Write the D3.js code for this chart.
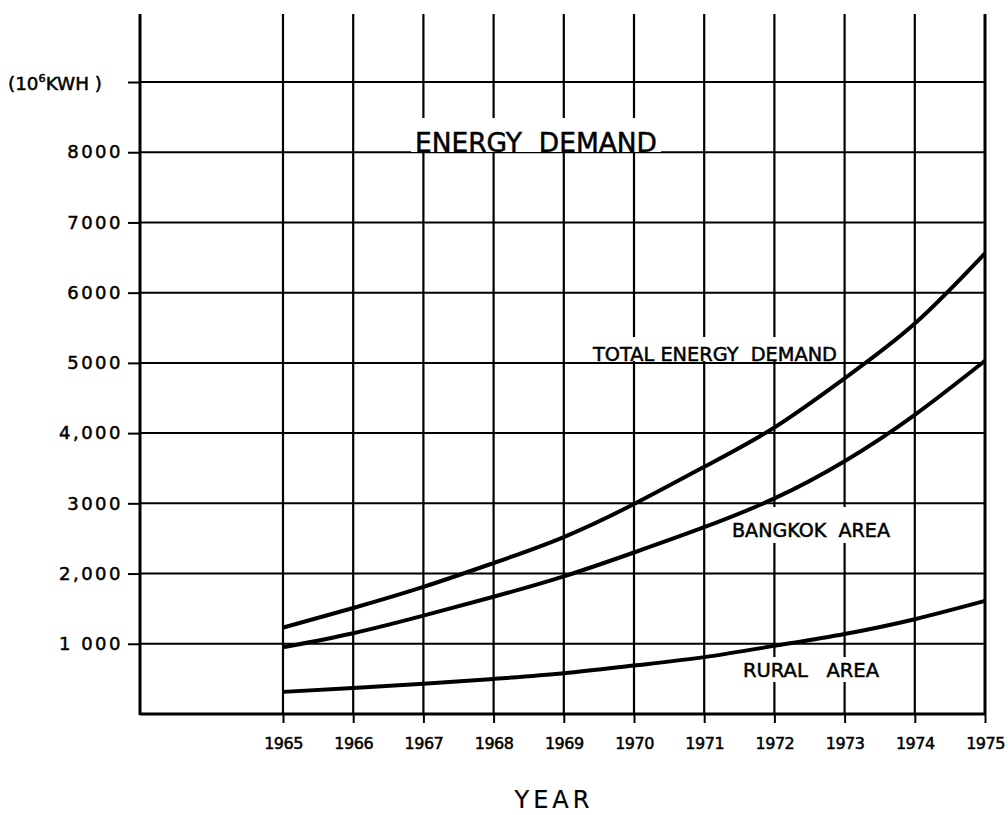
<!DOCTYPE html>
<html lang="en">
<head>
    <meta charset="UTF-8">
    <title>Energy Demand</title>
    <script src="https://d3js.org/d3.v7.min.js"></script>
    <style>
        body { margin: 0; background: #fff; }
        svg { display: block; }
        text { font-family: "DejaVu Sans", sans-serif; fill: #000; stroke: #000; stroke-width: 0.5px; }
        .grid line { stroke: #000; stroke-width: 2; }
        .y-axis text { font-size: 18px; letter-spacing: 2.5px; }
        .x-axis text { font-size: 16px; letter-spacing: -0.5px; }
        .axis line { stroke: #000; stroke-width: 2; }
        .curve { fill: none; stroke: #000; stroke-width: 4; }
    </style>
</head>
<body>
    <svg width="1008" height="815"></svg>

    <script>
        // values
        const years = [1965, 1966, 1967, 1968, 1969, 1970, 1971, 1972, 1973, 1974, 1975];
        const totalDemand = [1230, 1510, 1810, 2150, 2520, 2990, 3520, 4080, 4780, 5560, 6560];
        const bangkokArea = [950, 1150, 1400, 1670, 1960, 2300, 2660, 3070, 3600, 4260, 5030];
        const ruralArea = [315, 370, 430, 500, 580, 690, 810, 970, 1140, 1350, 1610];

        const yTickValues = [1000, 2000, 3000, 4000, 5000, 6000, 7000, 8000, 9000];
        const yTickLabels = ["1 000", "2,000", "3000", "4,000", "5000", "6000", "7000", "8000", ""];

        const svg = d3.select("svg");

        const axisX = 140;       // left frame line
        const gridTop = 14;

        const x = d3.scaleLinear().domain([1965, 1975]).range([283, 985]);
        const y = d3.scaleLinear().domain([0, 9000]).range([714, 82]);

        // grid
        const grid = svg.append("g").attr("class", "grid");
        grid.selectAll(".h")
            .data(yTickValues)
            .enter().append("line")
            .attr("x1", axisX).attr("x2", x(1975))
            .attr("y1", d => y(d)).attr("y2", d => y(d));
        grid.selectAll(".v")
            .data(years)
            .enter().append("line")
            .attr("x1", d => x(d)).attr("x2", d => x(d))
            .attr("y1", y(0)).attr("y2", gridTop)
            .style("stroke-width", d => d === 1975 ? 3 : 2.2);

        // labels on the chart, with a white patch that breaks the grid
        const labels = [
            { text: "ENERGY  DEMAND", x: 415, y: 152, size: 26, len: 242, cap: 20, padTop: 14, padBot: 0 },
            { text: "TOTAL ENERGY  DEMAND", x: 593, y: 361, size: 19, len: 244, cap: 14, padTop: 10, padBot: 0 },
            { text: "BANGKOK  AREA", x: 732, y: 537, size: 19, len: 158, cap: 14, padTop: 16, padBot: 6 },
            { text: "RURAL   AREA", x: 743, y: 677, size: 19, len: 136, cap: 14, padTop: 6, padBot: 5 }
        ];
        const lab = svg.append("g");
        labels.forEach(function(l) {
            lab.append("rect")
                .attr("x", l.x - 4).attr("width", l.len + 8)
                .attr("y", l.y - l.cap - l.padTop)
                .attr("height", l.cap + l.padTop + l.padBot)
                .attr("fill", "#fff");
            lab.append("text")
                .attr("x", l.x).attr("y", l.y)
                .attr("font-size", l.size)
                .attr("textLength", l.len)
                .attr("lengthAdjust", "spacingAndGlyphs")
                .style("white-space", "pre")
                .text(l.text);
        });

        // curves
        const line = d3.line()
            .x((d, i) => x(years[i]))
            .y(d => y(d))
            .curve(d3.curveNatural);

        [totalDemand, bangkokArea, ruralArea].forEach(function(s) {
            svg.append("path")
                .attr("class", "curve")
                .attr("d", line(s));
        });

        // frame lines
        svg.append("line")
            .attr("x1", axisX).attr("x2", axisX)
            .attr("y1", gridTop).attr("y2", y(0) + 1)
            .attr("stroke", "#000").attr("stroke-width", 3);
        svg.append("line")
            .attr("x1", axisX).attr("x2", x(1975) + 1)
            .attr("y1", y(0)).attr("y2", y(0))
            .attr("stroke", "#000").attr("stroke-width", 3);

        // y axis
        svg.append("g")
            .attr("class", "axis y-axis")
            .attr("transform", "translate(" + axisX + ",0)")
            .call(d3.axisLeft(y)
                .tickValues(yTickValues)
                .tickFormat((d, i) => yTickLabels[i])
                .tickSize(12)
                .tickSizeOuter(0)
                .tickPadding(5))
            .call(g => g.select(".domain").remove());

        // unit label at the top tick
        const unit = svg.append("text")
            .attr("x", 8).attr("y", y(9000) + 8)
            .attr("font-size", 18)
            .attr("textLength", 94)
            .attr("lengthAdjust", "spacingAndGlyphs");
        unit.append("tspan").text("(10");
        unit.append("tspan").attr("font-size", 11).attr("dy", -8).text("6");
        unit.append("tspan").attr("dy", 8).text("KWH )");

        // x axis
        svg.append("g")
            .attr("class", "axis x-axis")
            .attr("transform", "translate(0," + y(0) + ")")
            .call(d3.axisBottom(x)
                .tickValues(years)
                .tickFormat(d3.format("d"))
                .tickSize(9)
                .tickSizeOuter(0)
                .tickPadding(15))
            .call(g => g.select(".domain").remove());

        svg.append("text")
            .attr("x", 554).attr("y", 808)
            .attr("text-anchor", "middle")
            .attr("font-size", 24)
            .style("letter-spacing", "4px")
            .style("stroke-width", "0.2px")
            .text("YEAR");
    </script>
</body>
</html>
